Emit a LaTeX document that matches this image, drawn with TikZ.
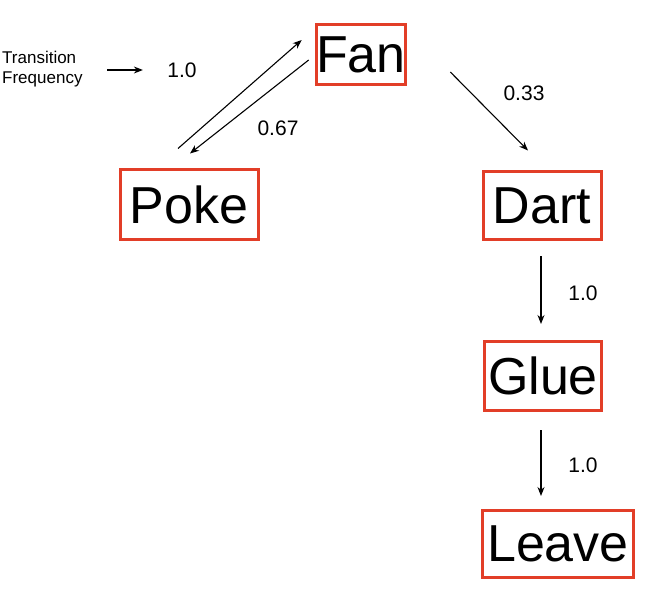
\documentclass[tikz,border=0pt]{standalone}
\usepackage{fontspec}
\setmainfont{Liberation Sans}
\usetikzlibrary{arrows.meta}
\definecolor{boxred}{RGB}{226,62,40}
\begin{document}
\begin{tikzpicture}[x=1pt,y=-1pt,
  state/.style={draw=boxred,line width=3pt,inner sep=0pt,font=\fontsize{52}{56}\selectfont},
  lbl/.style={font=\fontsize{21}{24}\selectfont},
  conn/.style={-{Stealth[length=9pt,width=7pt]},line width=1.1pt}]
\useasboundingbox (0,0) rectangle (650,593);
\node[state,minimum width=86pt,minimum height=60pt] (fan) at (361,55) {Fan};
\node[state,minimum width=138pt,minimum height=70pt] (poke) at (189,205) {Poke};
\node[state,minimum width=118pt,minimum height=68pt] (dart) at (542,206) {Dart};
\node[state,minimum width=117pt,minimum height=69pt] (glue) at (543,376) {Glue};
\node[state,minimum width=151pt,minimum height=67pt] (leave) at (558,544) {Leave};
\node[align=left,anchor=west,inner sep=0pt,font=\fontsize{17}{20}\selectfont] (tf) at (2,69) {Transition\\Frequency};
\node[lbl] (legv) at (182,70) {1.0};
\coordinate (legs) at (107,70);
\coordinate (vx) at (541,0);
\draw[conn] (legs) -- ([xshift=-21pt]legv.west);
\draw[conn] ([xshift=-11pt,yshift=20pt]poke.north) -- ([xshift=-13pt,yshift=15pt]fan.west);
\draw[conn] ([xshift=-6pt,yshift=-5pt]fan.west) -- ([xshift=1pt,yshift=15pt]poke.north);
\draw[conn] ([xshift=43pt,yshift=-17pt]fan.east) -- ([xshift=-14pt,yshift=20pt]dart.north);
\draw[conn] ([yshift=-15pt]dart.south -| vx) -- ([yshift=16pt]glue.north -| vx);
\draw[conn] ([yshift=-18pt]glue.south -| vx) -- ([yshift=13pt]leave.north -| vx);
\node[lbl] at (278,128) {0.67};
\node[lbl] at (524,93) {0.33};
\node[lbl] at (583,293) {1.0};
\node[lbl] at (583,465) {1.0};
\end{tikzpicture}
\end{document}
